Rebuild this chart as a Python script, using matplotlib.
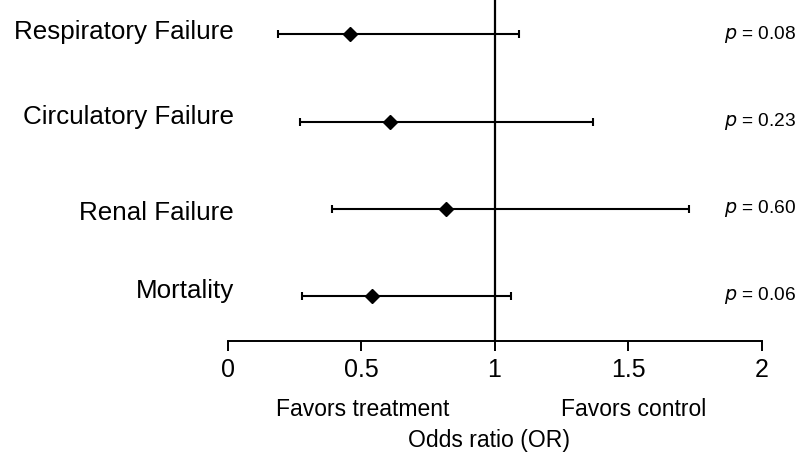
import matplotlib
matplotlib.use('Agg')
from matplotlib import pyplot as plt

# Data
outcomes = ['Respiratory Failure', 'Circulatory Failure', 'Renal Failure', 'Mortality']
odds = [0.46, 0.61, 0.82, 0.54]
ci_low = [0.19, 0.27, 0.39, 0.28]
ci_high = [1.09, 1.37, 1.73, 1.06]
p_values = ['0.08', '0.23', '0.60', '0.06']
rows = [4, 3, 2, 1]

plt.rcParams['font.family'] = ['Liberation Sans', 'DejaVu Sans']

W, H = 801, 471
fig = plt.figure(figsize=(W / 100, H / 100), dpi=100)
ax = fig.add_axes([227.5 / W, (H - 341) / H, 534 / W, 341 / H])

err_lo = [o - l for o, l in zip(odds, ci_low)]
err_hi = [h - o for o, h in zip(odds, ci_high)]
ax.errorbar(odds, rows, xerr=[err_lo, err_hi], fmt='D', color='black',
            ecolor='black', elinewidth=1.5, capsize=3, capthick=1.5,
            markersize=7)

# reference line at OR = 1
ax.axvline(1, color='black', linewidth=1.6)

ax.set_xlim(0, 2)
ax.set_ylim(0.483, 4.394)
ax.set_xticks([0, 0.5, 1, 1.5, 2])
ax.set_xticklabels(['0', '0.5', '1', '1.5', '2'])
ax.tick_params(axis='x', direction='out', length=7, width=1.4, labelsize=18, pad=5)
ax.set_yticks([])
for s in ['top', 'right', 'left']:
    ax.spines[s].set_visible(False)
ax.spines['bottom'].set_linewidth(1.4)

# outcome labels (slightly offset from their rows, as in the original) and p values
label_shift = [0.03, 0.05, -0.05, 0.06]
for name, y, p, dy in zip(outcomes, rows, p_values, label_shift):
    ax.text(0.025, y + dy, name, ha='right', va='center', fontsize=18.7)
    ax.text(2.13, y, '$\\it{p}$ = ' + p, ha='right', va='center', fontsize=13.8)

fig.text(363 / W, 1 - 410 / H, 'Favors treatment', ha='center', va='center',
         fontsize=16.5)
fig.text(634 / W, 1 - 410 / H, 'Favors control', ha='center', va='center',
         fontsize=16.5)
fig.text(488.5 / W, 1 - 441 / H, 'Odds ratio (OR)', ha='center', va='center',
         fontsize=16.6)

fig.savefig('out.png', dpi=100)
